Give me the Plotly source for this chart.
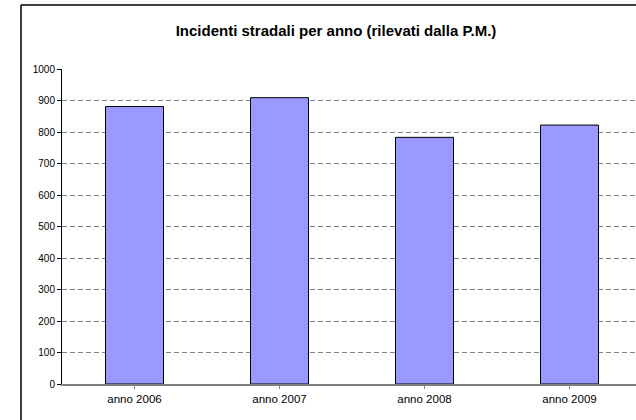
import plotly.graph_objects as go

categories = ["anno 2006", "anno 2007", "anno 2008", "anno 2009"]
values = [881, 909, 783, 822]
y_ticks = [0, 100, 200, 300, 400, 500, 600, 700, 800, 900, 1000]
title_text = "Incidenti stradali per anno (rilevati dalla P.M.)"

W, H = 636, 420
L, T, B = 62, 69, 384
pw = W - L
ph = B - T
cat_w = 145.0

fig = go.Figure()
fig.add_trace(go.Bar(
    x=list(range(len(categories))), y=values, width=0.4,
    marker=dict(color="#9999FF", line=dict(color="#000000", width=1)),
    hoverinfo="skip",
))

def px_x(p):
    return (p - L) / pw

def px_y(p):
    return (B - p) / ph

fig.update_layout(
    width=W, height=H,
    margin=dict(l=L, r=0, t=T, b=H - B, pad=0),
    paper_bgcolor="white", plot_bgcolor="white",
    showlegend=False,
    font=dict(family="Liberation Sans, Arial, sans-serif", color="#000000", size=10),
    title=dict(text="<b>" + title_text + "</b>", xref="container", x=336 / W, xanchor="center",
               yref="container", y=1 - 31 / H, yanchor="middle",
               font=dict(size=15, family="Liberation Sans, Arial, sans-serif", color="#000")),
    shapes=[
        dict(type="line", xref="paper", yref="paper",
             x0=px_x(21), x1=1.0, y0=px_y(5), y1=px_y(5),
             line=dict(color="#000000", width=1.5), layer="below"),
        dict(type="line", xref="paper", yref="paper",
             x0=px_x(21), x1=px_x(21), y0=px_y(5), y1=px_y(420),
             line=dict(color="#000000", width=1.5), layer="below"),
    ],
)

fig.update_xaxes(
    range=[-0.5, -0.5 + pw / cat_w],
    tickmode="array", tickvals=list(range(len(categories))), ticktext=categories,
    tickson="boundaries", ticks="outside", ticklen=3, tickcolor="#808080",
    showline=True, linecolor="#808080", linewidth=1.5,
    showgrid=False, zeroline=False,
    tickfont=dict(size=11.5, color="#000"),
)
fig.update_yaxes(
    range=[0, 1000], tickmode="array", tickvals=y_ticks,
    ticks="outside", ticklen=4, tickcolor="#000",
    showline=True, linecolor="#000000", linewidth=1,
    showgrid=True, gridcolor="#808080", griddash="5px,3px", gridwidth=1.2,
    zeroline=False,
    tickfont=dict(size=10, color="#000"),
)

fig.write_html("out.html")
